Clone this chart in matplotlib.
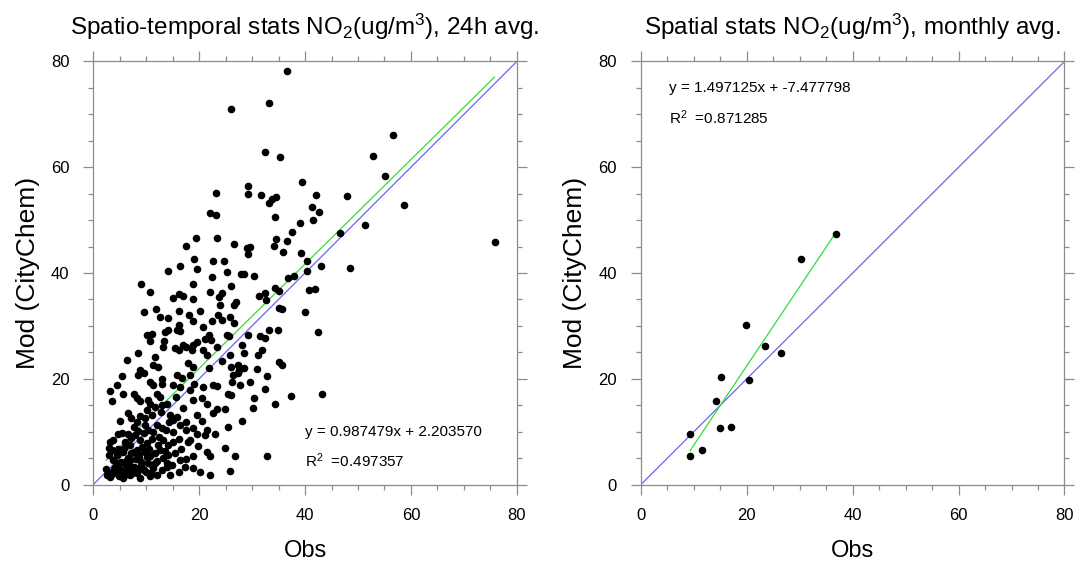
import matplotlib
matplotlib.use("Agg")
import matplotlib.pyplot as plt
from matplotlib.ticker import MultipleLocator
import numpy as np

plt.rcParams['font.family'] = ['Liberation Sans', 'DejaVu Sans']
plt.rcParams['mathtext.fontset'] = 'custom'
plt.rcParams['mathtext.rm'] = 'Liberation Sans'
plt.rcParams['mathtext.it'] = 'Liberation Sans'
plt.rcParams['mathtext.default'] = 'regular'

# ---------------- data: 24h averages (left panel) ----------------
obs_24h = [
    11.2, 12.3, 17.8, 18.9, 8.8, 9.5, 8.5, 5.4, 15.8, 16.7, 18.3, 4.4, 3.2, 10.7, 11.3, 12.9, 15.1, 16.4,
    5.7, 7.6, 8.2, 8.8, 12.0, 12.6, 3.5, 10.7, 11.7, 12.9, 13.9, 18.3, 20.8, 22.7, 18.9, 20.5, 21.4,
    6.6, 7.2, 8.2, 10.1, 11.0, 14.5, 15.1, 15.8, 17.6, 19.5, 22.7, 7.6, 9.8, 10.4, 12.0, 12.9, 16.4,
    17.6, 18.9, 21.4, 21.1, 4.7, 3.2, 3.8, 6.0, 6.9, 8.8, 10.1, 11.0, 13.2, 14.2, 15.1, 16.1, 18.3,
    19.8, 21.4, 22.1, 5.7, 7.2, 8.2, 9.8, 10.7, 11.7, 12.6, 14.2, 15.4, 16.4, 17.6, 18.9, 2.8, 3.2,
    4.1, 5.0, 5.7, 6.3, 6.9, 7.6, 8.2, 8.8, 9.5, 10.4, 11.3, 12.0, 12.9, 13.9, 14.5, 16.1, 17.3, 18.9,
    20.2, 22.1, 3.8, 4.4,
    4.0, 5.2, 6.1, 7.0, 8.0, 9.1, 10.0, 11.0, 6.6, 7.6, 8.6, 9.2, 10.6, 12.1, 13.1, 14.0, 3.0, 2.4,
    4.6, 5.4, 7.9, 9.5, 12.4, 13.8, 15.0, 6.3, 7.3, 9.0, 10.8, 4.8,
    3.5, 4.2, 4.9, 5.5, 6.2, 6.8, 7.4, 8.1, 8.7, 9.4, 10.1, 10.9, 11.6, 12.3, 13.5, 14.8, 3.0, 4.4,
    5.8, 7.1, 8.4, 9.7, 11.2, 12.8, 14.3, 16.5, 17.9, 19.6, 2.6, 3.6, 5.1, 6.5, 8.9, 10.3, 13.0,
    15.6, 17.0, 19.0, 20.5, 21.8,
    24.3, 26.0, 27.4, 27.5, 27.3, 28.5, 26.3, 26.2, 27.7, 29.6, 30.9, 32.8, 35.0, 35.6, 23.3, 25.5,
    26.0, 30.4, 32.5, 34.3, 37.4, 43.2, 23.3, 24.9, 30.2, 28.0, 25.4, 23.0, 24.9, 26.8, 32.9, 25.8,
    19.4, 17.5, 19.0, 22.7, 16.4, 19.5, 14.1, 22.4, 9.0, 18.9, 10.8, 22.0, 16.1, 17.0, 15.0, 18.9,
    23.8, 9.5, 11.9, 12.6, 14.2, 16.1, 18.0, 20.2, 18.9, 22.4, 23.6, 16.1, 15.8, 16.3, 13.6, 14.2,
    10.2, 11.0, 10.8, 13.4, 20.8, 21.8, 21.1, 22.2, 19.5, 18.9, 17.6, 18.6, 13.2, 15.4, 16.1, 17.0,
    8.5, 6.4, 11.7, 20.8, 21.4,
    23.3, 26.5, 29.0, 29.3, 29.6, 34.5, 37.6, 34.2, 36.5, 35.9, 39.3, 40.3, 43.0, 24.6, 25.2, 27.9,
    28.5, 30.4, 26.0, 36.7, 38.0, 40.3, 24.3, 26.9, 26.5, 31.3, 32.5, 32.6, 34.3, 35.1, 40.8, 41.8,
    23.9, 24.4, 25.8, 26.5, 35.0, 35.6, 40.0, 25.2, 25.6, 29.3, 31.5, 32.5, 33.1, 34.8, 42.5, 23.3,
    28.0, 31.8, 31.1, 28.4, 25.8,
    23.2, 22.0, 23.1, 36.5, 33.2, 26.0, 32.5, 35.2, 39.4, 29.2, 29.2, 31.7, 34.5, 33.8, 33.2, 42.1,
    41.4, 42.7, 34.3, 39.1, 41.5,
    56.7, 52.9, 55.1, 47.9, 58.6, 51.3, 46.6, 75.8, 48.5,
]
mod_24h = [
    22.6, 22.2, 23.0, 22.3, 21.6, 21.0, 20.7, 20.5, 20.7, 20.1, 20.7, 18.8, 17.7, 19.4, 18.8, 19.1, 18.8, 18.5,
    17.1, 17.1, 16.3, 15.7, 17.2, 16.6, 15.7, 15.3, 14.7, 15.0, 15.3, 17.9, 18.5, 18.8, 16.0, 16.3, 15.3,
    13.5, 12.5, 11.9, 14.1, 13.1, 13.1, 12.2, 12.8, 11.9, 13.1, 13.5, 10.9, 11.2, 10.3, 11.2, 10.6, 11.2,
    10.3, 10.6, 10.3, 9.4, 9.5, 8.1, 8.4, 8.1, 7.5, 8.4, 7.8, 8.7, 8.4, 7.5, 8.1, 8.7, 8.4,
    7.2, 6.2, 5.3, 6.2, 5.9, 6.5, 6.2, 5.3, 5.9, 6.5, 5.6, 5.9, 4.6, 4.9, 5.3, 2.4, 1.5,
    3.4, 2.1, 1.2, 2.7, 1.8, 3.4, 2.1, 1.2, 2.7, 4.0, 3.1, 1.8, 2.7, 3.4, 1.8, 2.4, 3.4, 3.1,
    2.4, 1.8, 4.6, 4.0,
    3.0, 4.3, 3.6, 4.6, 3.1, 4.2, 2.4, 3.6, 5.1, 6.2, 5.0, 7.1, 6.7, 4.5, 5.1, 4.1, 5.6, 3.0,
    6.8, 9.8, 9.3, 9.8, 9.0, 10.4, 10.0, 2.0, 2.5, 3.5, 1.6, 1.7,
    2.0, 2.8, 3.2, 2.6, 4.4, 3.9, 2.2, 4.8, 5.7, 3.0, 5.2, 2.2, 4.0, 7.5, 6.3, 3.6, 7.0, 5.5,
    7.0, 8.8, 10.2, 12.5, 9.9, 13.8, 11.8, 6.8, 8.0, 9.5, 1.8, 6.5, 12.0, 9.6, 13.0, 16.0, 20.0,
    16.5, 14.5, 19.0, 12.0, 22.0,
    23.4, 22.3, 22.6, 21.6, 21.0, 22.0, 20.7, 19.4, 18.8, 19.4, 21.9, 20.5, 23.2, 22.6, 18.6, 17.2,
    16.9, 16.3, 18.0, 15.3, 16.7, 17.1, 14.2, 14.3, 14.4, 12.0, 10.9, 9.5, 7.0, 5.4, 5.4, 2.6,
    46.7, 45.1, 42.7, 42.3, 41.4, 40.7, 40.4, 39.3, 37.9, 38.0, 36.4, 36.4, 36.0, 35.7, 35.3, 35.1,
    35.5, 32.7, 33.1, 31.7, 31.4, 32.9, 32.0, 32.9, 30.9, 31.0, 32.0, 30.1, 29.2, 29.0, 28.9, 29.3,
    28.3, 28.4, 27.1, 27.2, 29.8, 28.3, 27.6, 27.3, 27.0, 26.4, 26.0, 25.5, 26.0, 25.9, 25.4, 26.4,
    24.8, 23.5, 24.2, 25.4, 24.5,
    46.7, 45.5, 44.8, 43.6, 45.0, 46.4, 47.8, 45.1, 46.0, 44.0, 43.8, 42.3, 41.4, 42.3, 40.1, 39.8,
    39.8, 39.5, 37.6, 39.0, 39.5, 40.4, 36.3, 34.5, 33.9, 35.6, 36.3, 34.9, 37.1, 36.6, 36.8, 36.9,
    33.9, 31.2, 31.6, 30.6, 33.3, 33.1, 32.7, 28.2, 28.1, 28.2, 28.1, 27.8, 29.2, 29.3, 28.9, 26.0,
    26.4, 25.4, 24.5, 24.8, 24.5,
    55.2, 51.3, 51.0, 78.2, 72.2, 71.1, 62.9, 62.0, 57.2, 56.5, 55.0, 54.7, 54.4, 53.9, 53.3, 54.7,
    52.5, 51.6, 50.6, 49.4, 50.0,
    66.1, 62.2, 58.3, 54.5, 52.8, 49.1, 47.5, 45.9, 41.0,
]
slope_24h, intercept_24h, r2_24h = 0.987479, 2.203570, 0.497357

# ---------------- data: monthly averages (right panel) ----------------
obs_month = [36.75, 30.3, 19.8, 23.45, 26.4, 15.1, 20.4, 14.2, 14.9, 17.0, 9.3, 11.6, 9.27]
mod_month = [47.3, 42.7, 30.1, 26.2, 24.8, 20.4, 19.7, 15.8, 10.65, 10.8, 9.6, 6.6, 5.36]
slope_month, intercept_month, r2_month = 1.497125, -7.477798, 0.871285

titles = ["Spatio-temporal stats NO$_2$(ug/m$^3$), 24h avg.",
          "Spatial stats NO$_2$(ug/m$^3$), monthly avg."]
xlabel = "Obs"
ylabel = "Mod (CityChem)"
axis_max = 80

fig = plt.figure(figsize=(10.76, 5.63), dpi=100)
ax1 = fig.add_axes([0.0867, 0.1394, 0.3936, 0.7514])
ax2 = fig.add_axes([0.5957, 0.1394, 0.3936, 0.7514])

frame_col = '#8c8c8c'
green = '#33dd33'
blue = '#6464ff'


def style(ax, title):
    ax.set_xlim(0, axis_max)
    ax.set_ylim(0, axis_max)
    ax.xaxis.set_major_locator(MultipleLocator(20))
    ax.yaxis.set_major_locator(MultipleLocator(20))
    ax.xaxis.set_minor_locator(MultipleLocator(5))
    ax.yaxis.set_minor_locator(MultipleLocator(5))
    ax.tick_params(which='both', direction='out', top=True, right=True,
                   color=frame_col, width=0.9, labelsize=12, pad=10)
    ax.tick_params(which='major', length=7.2)
    ax.tick_params(which='minor', length=3.6)
    for s in ax.spines.values():
        s.set_color(frame_col)
        s.set_linewidth(0.9)
    ax.set_xlabel(xlabel, fontsize=17, labelpad=12)
    ax.set_ylabel(ylabel, fontsize=19, labelpad=8)
    ax.set_title(title, fontsize=17.5, pad=19)


def panel(ax, obs, mod, slope, intercept, r2, title, eq_xy, r2_xy):
    obs = np.asarray(obs)
    mod = np.asarray(mod)
    ax.plot([0, axis_max], [0, axis_max], color=blue, lw=0.9, zorder=2)
    xs = np.array([obs.min(), obs.max()])
    ax.plot(xs, slope * xs + intercept, color=green, lw=0.9, zorder=2)
    ax.scatter(obs, mod, s=30, color='black', linewidths=0, zorder=3)
    ax.text(eq_xy[0], eq_xy[1], "y = %.6fx + %.6f" % (slope, intercept),
            fontsize=11, va='center', ha='left')
    ax.text(r2_xy[0], r2_xy[1], "R$^2$  =%.6f" % r2, fontsize=11, va='center', ha='left')
    style(ax, title)


panel(ax1, obs_24h, mod_24h, slope_24h, intercept_24h, r2_24h, titles[0], (40.0, 10.0), (40.0, 4.5))
panel(ax2, obs_month, mod_month, slope_month, intercept_month, r2_month, titles[1], (5.2, 75.0), (5.2, 69.3))

fig.savefig("out.png", dpi=100)
